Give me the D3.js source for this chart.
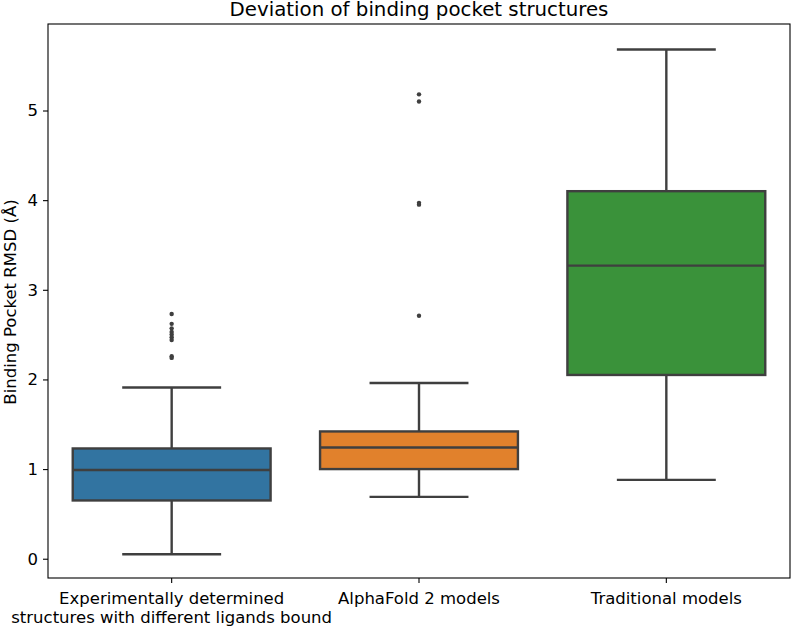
<!DOCTYPE html>
<html><head><meta charset="utf-8">
<script src="https://cdn.jsdelivr.net/npm/d3@7"></script>
<style>body{margin:0;background:#fff}svg{display:block}text{font-family:"DejaVu Sans",sans-serif;fill:#000}</style>
</head><body><svg id="c" width="792" height="626"></svg>
<script>
const categories = [["Experimentally determined","structures with different ligands bound"],["AlphaFold 2 models"],["Traditional models"]];
const colors = ["#3274a1","#e1812c","#3a923a"];
const whiskerLow = [0.05, 0.69, 0.88];
const q1 = [0.65, 1.00, 2.05];
const median = [0.99, 1.24, 3.27];
const q3 = [1.23, 1.42, 4.10];
const whiskerHigh = [1.91, 1.96, 5.68];
const outliers = [[2.73,2.62,2.57,2.53,2.50,2.47,2.44,2.26,2.24],[5.18,5.10,3.97,3.95,2.71],[]];
const yTicks = [0,1,2,3,4,5];

const svg = d3.select("#c");
const L=48,R=790,T=24,B=578;
const x = d3.scaleBand().domain(d3.range(3)).range([L,R]).paddingInner(0).paddingOuter(0);
const y = d3.scaleLinear().domain([-0.215,5.965]).range([B,T]);
const bw = x.bandwidth()*0.8;
const line="#3f3f3f", lw=2.4;

const g = svg.append("g");
d3.range(3).forEach(i=>{
  const cx = x(i)+x.bandwidth()/2;
  g.append("line").attr("x1",cx).attr("x2",cx).attr("y1",y(q3[i])).attr("y2",y(whiskerHigh[i])).attr("stroke",line).attr("stroke-width",lw);
  g.append("line").attr("x1",cx).attr("x2",cx).attr("y1",y(q1[i])).attr("y2",y(whiskerLow[i])).attr("stroke",line).attr("stroke-width",lw);
  [whiskerLow[i],whiskerHigh[i]].forEach(v=>g.append("line").attr("x1",cx-bw/4).attr("x2",cx+bw/4).attr("y1",y(v)).attr("y2",y(v)).attr("stroke",line).attr("stroke-width",lw));
  g.append("rect").attr("x",cx-bw/2).attr("width",bw).attr("y",y(q3[i])).attr("height",y(q1[i])-y(q3[i])).attr("fill",colors[i]).attr("stroke",line).attr("stroke-width",lw);
  g.append("line").attr("x1",cx-bw/2).attr("x2",cx+bw/2).attr("y1",y(median[i])).attr("y2",y(median[i])).attr("stroke",line).attr("stroke-width",lw);
  outliers[i].forEach(v=>g.append("circle").attr("cx",cx).attr("cy",y(v)).attr("r",2.2).attr("fill",line));
});

svg.append("rect").attr("x",L).attr("y",T).attr("width",R-L).attr("height",B-T).attr("fill","none").attr("stroke","#000").attr("stroke-width",1.1);

const ya = svg.append("g").attr("transform",`translate(${L},0)`).call(d3.axisLeft(y).tickValues(yTicks).tickSize(5).tickPadding(5).tickFormat(d3.format("d")));
ya.select(".domain").remove();
ya.selectAll("line").attr("stroke","#000").attr("stroke-width",1.1);
ya.selectAll("text").style("font-size","16.5px").attr("font-family","DejaVu Sans");

const xa = svg.append("g").attr("transform",`translate(0,${B})`).call(d3.axisBottom(x).tickSize(5).tickFormat(""));
xa.select(".domain").remove();
xa.selectAll("line").attr("stroke","#000").attr("stroke-width",1.1);
d3.range(3).forEach(i=>{
  const cx = x(i)+x.bandwidth()/2;
  categories[i].forEach((t,j)=>svg.append("text").attr("x",cx).attr("y",604+j*19).attr("text-anchor","middle").style("font-size","16.5px").text(t));
});

svg.append("text").attr("transform","translate(16,302) rotate(-90)").attr("text-anchor","middle").style("font-size","16.5px").text("Binding Pocket RMSD (Å)");
svg.append("text").attr("x",(L+R)/2).attr("y",16).attr("text-anchor","middle").style("font-size","19.8px").text("Deviation of binding pocket structures");
</script></body></html>
